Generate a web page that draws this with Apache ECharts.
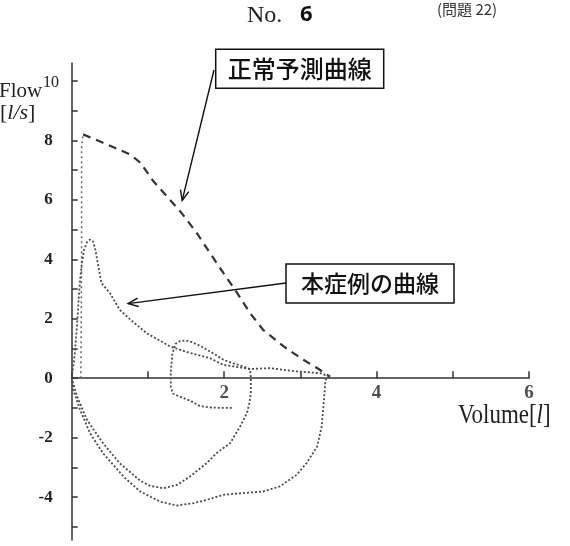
<!DOCTYPE html>
<html>
<head>
<meta charset="utf-8">
<script src="https://cdn.jsdelivr.net/npm/echarts@6/dist/echarts.min.js"></script>
<style>
html, body { margin: 0; background: #fff; }
#main { width: 570px; height: 546px; }
</style>
</head>
<body>
<div id="main"></div>
<script>
// 正常予測曲線 (立ち上がり部分と呼気部分)
var normalRiseVol  = [0.12, 0.13, 0.13, 0.15];
var normalRiseFlow = [0, 4.0, 7.8, 8.2];
var normalVol  = [0.15, 0.41, 0.77, 0.90, 1.07, 1.29, 1.44, 1.64, 1.77, 1.99, 2.17, 2.34, 2.51, 2.78, 3.04, 3.24, 3.39];
var normalFlow = [8.2, 7.92, 7.52, 7.25, 6.63, 6.0, 5.56, 4.89, 4.38, 3.54, 2.87, 2.19, 1.63, 1.07, 0.62, 0.31, 0.05];

// 本症例: 呼気曲線
var expVol  = [0, 0.04, 0.07, 0.09, 0.11, 0.13, 0.16, 0.20, 0.24, 0.28, 0.31, 0.35, 0.39, 0.50, 0.63, 0.77, 0.98, 1.29, 1.55, 1.81, 1.99, 2.34, 2.60, 2.95, 3.26, 3.39];
var expFlow = [0, 0.8, 1.8, 2.6, 3.3, 3.8, 4.3, 4.58, 4.66, 4.6, 4.33, 3.76, 3.2, 2.87, 2.3, 1.97, 1.52, 1.07, 0.85, 0.68, 0.45, 0.31, 0.34, 0.23, 0.17, 0.05];

// 本症例: 小さいループ (安静呼吸 → 吸気)
var loopVol  = [2.10, 1.95, 1.80, 1.68, 1.55, 1.42, 1.33, 1.30, 1.30, 1.32, 1.36, 1.42, 1.49, 1.57, 1.66, 1.76, 1.88, 1.99, 2.12, 2.25, 2.34, 2.35, 2.35, 2.33, 2.30, 2.21, 2.08, 1.90, 1.77, 1.55, 1.38, 1.20, 1.03, 0.90, 0.63, 0.41, 0.20, 0.07, 0];
var loopFlow = [-1.0, -1.0, -0.98, -0.93, -0.75, -0.62, -0.52, -0.3, 0.2, 0.8, 1.15, 1.25, 1.27, 1.22, 1.12, 0.98, 0.8, 0.62, 0.5, 0.4, 0.3, 0, -0.5, -0.85, -1.17, -1.62, -2.18, -2.52, -2.86, -3.31, -3.59, -3.70, -3.62, -3.45, -2.86, -2.18, -1.40, -0.61, 0];

// 本症例: 最大吸気曲線
var inspVol  = [3.39, 3.33, 3.31, 3.28, 3.22, 3.08, 2.95, 2.73, 2.51, 2.21, 1.99, 1.77, 1.60, 1.38, 1.16, 0.90, 0.68, 0.41, 0.24, 0.11, 0.02, 0];
var inspFlow = [0.05, -0.05, -0.72, -1.62, -2.3, -2.86, -3.25, -3.64, -3.81, -3.87, -3.92, -4.09, -4.2, -4.28, -4.15, -3.81, -3.31, -2.52, -1.85, -1.06, -0.39, 0];

// 目盛
var xLabels = [2, 4, 6];
var yTicks = [-5, -4, -3, -2, -1, 0, 1, 2, 3, 4, 5, 6, 7, 8, 9, 10];
var yLabels = [-4, -2, 0, 2, 4, 6, 8];
var yTopLabel = '10';

// 矢印の先端 (データ座標)
var arrowTips = [[1.45, 5.98], [0.74, 2.51]];

function pairs(xs, ys) {
    return xs.map(function (x, i) { return [x, ys[i]]; });
}

var axisColor = '#333';
var labelFont = {
    fontFamily: 'Liberation Serif',
    fontWeight: 'bold',
    fontSize: 17,
    color: '#222'
};

var patientStyle = { type: [2, 2], width: 1.8, color: '#4a4a4a' };

var chart = echarts.init(document.getElementById('main'));
var option = {
    animation: false,
    grid: { left: 71.7, right: 41, top: 63, bottom: 6, outerBoundsMode: 'none' },
    xAxis: {
        type: 'value', min: 0, max: 6, interval: 1,
        axisLine: { onZero: true, lineStyle: { color: axisColor, width: 1.5 } },
        axisTick: { inside: true, length: 7, lineStyle: { color: axisColor, width: 1.5 } },
        axisLabel: { show: false },
        splitLine: { show: false }
    },
    yAxis: {
        type: 'value', min: -5.44, max: 10.6,
        axisLine: { show: true, lineStyle: { color: axisColor, width: 1.5 } },
        axisTick: { show: true, inside: true, length: 6, customValues: yTicks, lineStyle: { color: axisColor, width: 1.5 } },
        axisLabel: Object.assign({ customValues: yLabels, margin: 19 }, labelFont),
        splitLine: { show: false }
    },
    series: [
        { type: 'line', data: pairs(normalRiseVol, normalRiseFlow), symbol: 'none', silent: true,
          lineStyle: { type: [2, 3], width: 1.5, color: '#666' } },
        { type: 'line', data: pairs(normalVol, normalFlow), symbol: 'none', silent: true,
          lineStyle: { type: [8, 6], width: 2.2, color: '#333' } },
        { type: 'line', data: pairs(expVol, expFlow), symbol: 'none', silent: true, lineStyle: patientStyle },
        { type: 'line', data: pairs(loopVol, loopFlow), symbol: 'none', silent: true, lineStyle: patientStyle },
        { type: 'line', data: pairs(inspVol, inspFlow), symbol: 'none', silent: true, lineStyle: patientStyle },
        // x 軸の目盛ラベル (Flow = 0 の線の下に置く)
        { type: 'scatter', data: xLabels.map(function (v) { return [v, 0]; }), symbolSize: 0, silent: true,
          label: {
              show: true, position: 'bottom', distance: 5,
              fontFamily: 'Liberation Serif', fontWeight: 'bold', fontSize: 19, color: '#222',
              formatter: function (p) { return String(p.value[0]); }
          } }
    ]
};
chart.setOption(option);

// 注記 (ボックスと矢印)
function arrow(from, tipData) {
    var tip = chart.convertToPixel({ gridIndex: 0 }, tipData);
    var ang = Math.atan2(tip[1] - from[1], tip[0] - from[0]);
    var len = 11, spread = 0.4;
    var a1 = [tip[0] - len * Math.cos(ang - spread), tip[1] - len * Math.sin(ang - spread)];
    var a2 = [tip[0] - len * Math.cos(ang + spread), tip[1] - len * Math.sin(ang + spread)];
    var st = { stroke: '#111', lineWidth: 1.4, fill: null };
    return [
        { type: 'line', shape: { x1: from[0], y1: from[1], x2: tip[0], y2: tip[1] }, style: st },
        { type: 'polyline', shape: { points: [a1, tip, a2] }, style: st }
    ];
}

function box(x, y, w, h, text, size) {
    return [
        { type: 'rect', shape: { x: x, y: y, width: w, height: h },
          style: { fill: '#fff', stroke: '#111', lineWidth: 1.5 } },
        { type: 'text', x: x + w / 2, y: y + h / 2,
          style: { text: text, fontFamily: 'Noto Sans CJK JP', fontWeight: 500, fontSize: size,
                   fill: '#111', align: 'center', verticalAlign: 'middle' } }
    ];
}

var serif = 'Liberation Serif';
var graphics = [].concat(
    arrow([214, 70], arrowTips[0]),
    arrow([286, 283], arrowTips[1]),
    box(215.7, 49.3, 168, 39, '正常予測曲線', 24),
    box(286, 264, 168, 39, '本症例の曲線', 23),
    [
        { type: 'text', x: 247, y: 4, style: { text: 'No.', fontFamily: serif, fontSize: 24, fill: '#222' } },
        { type: 'text', x: 300, y: 4, style: { text: '6', fontFamily: 'Noto Sans', fontWeight: 'bold', fontSize: 22, fill: '#111' } },
        { type: 'text', x: 437, y: 2, style: { text: '(問題 22)', fontFamily: 'Noto Sans CJK JP', fontSize: 15, fill: '#333' } },
        { type: 'text', x: -1, y: 81, style: { text: 'Flow', fontFamily: serif, fontSize: 21, fill: '#222' } },
        { type: 'text', x: 43, y: 75, style: { text: yTopLabel, fontFamily: serif, fontSize: 16, fill: '#222' } },
        { type: 'text', x: 0, y: 102, style: {
            text: '{b|[}{i|l/s}{b|]}',
            rich: {
                b: { fontFamily: serif, fontSize: 22, fill: '#222' },
                i: { fontFamily: serif, fontStyle: 'italic', fontSize: 22, fill: '#222' }
            } } },
        { type: 'text', x: 458, y: 402, scaleX: 0.85, style: {
            text: '{b|Volume[}{i|l}{b|]}',
            rich: {
                b: { fontFamily: serif, fontSize: 27, fill: '#222' },
                i: { fontFamily: serif, fontStyle: 'italic', fontSize: 27, fill: '#222' }
            } } }
    ]
);
chart.setOption({ graphic: graphics });
</script>
</body>
</html>
